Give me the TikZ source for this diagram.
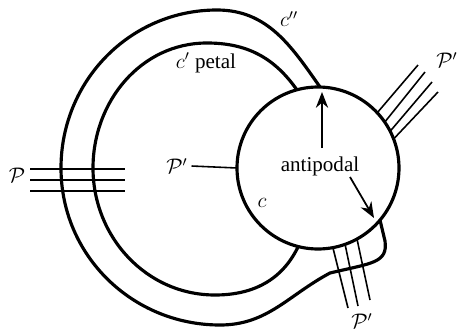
\documentclass[tikz,border=0pt]{standalone}
\usepackage{fontspec}
\setmainfont{Liberation Serif}
\usetikzlibrary{arrows.meta}

\begin{document}
\begin{tikzpicture}[x=0.02cm,y=0.02cm,
    curve/.style={line width=1.8pt},
    strand/.style={line width=0.9pt},
    lbl/.style={font=\fontsize{12}{14}\selectfont,inner sep=0pt}]
    \useasboundingbox (0,0) rectangle (457,329);
    \coordinate (C) at (318,161);
    \node [lbl] (antip) at (320,163) {antipodal};
    \node [lbl] (c) at (262,126) {$c$};
    \node [lbl] (petal) at (206,266) {$c'$ petal};
    \node [lbl] (cpp) at (289,310) {$c''$};
    \node [lbl] (P) at (17,154) {$\mathcal{P}$};
    \node [lbl] (Pin) at (177,163) {$\mathcal{P}'$};
    \node [lbl] (Ptop) at (447,269) {$\mathcal{P}'$};
    \node [lbl] (Pbot) at (362,8) {$\mathcal{P}'$};
    \draw [curve] (C) circle (81);
    \draw [curve] (297,239) to[out=125,in=0] (207,286) to[out=180,in=90] (93,161)
        to[out=-90,in=180] (215,34) to[out=0,in=-116] (298,82);
    \draw [curve] (320,242) to[out=125,in=0] (217,319) to[out=180,in=90] (61,161)
        to[out=-90,in=180] (220,4) to[out=0,in=208] (330,56)
        .. controls (372,66) and (388,66) .. (385,88) -- (380,109);
    \foreach \y in {160,149,138}
        \draw [strand] (30,\y) -- (125,\y);
    \draw [strand] (Pin.east) ++(2pt,0) -- (237,161);
    \foreach \a/\ex/\ey in {43/418/264,34.5/425/257,27/432/247,21/438/237}
        \draw [strand] (C) ++(\a:81) -- (\ex,\ey);
    \draw [strand] (333,81) -- (348,21);
    \draw [strand] (345,85) -- (358,23);
    \draw [strand] (357,90) -- (370,29);
    \coordinate (up) at (322,237);
    \coordinate (down) at (374,111);
    \draw [-{Stealth[length=9pt,width=7pt]},line width=1pt] (322,181) -- (up);
    \draw [-{Stealth[length=9pt,width=7pt]},line width=1pt] (350,152) -- (down);
\end{tikzpicture}
\end{document}
